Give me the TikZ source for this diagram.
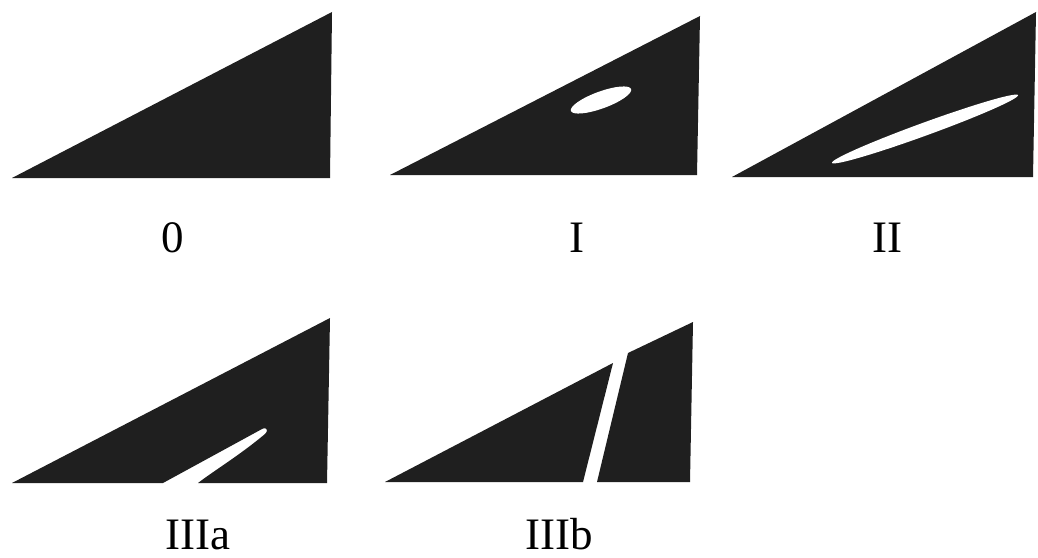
\documentclass[tikz,border=0pt]{standalone}
\usepackage{fontspec}
\setmainfont{Liberation Serif}

\begin{document}
\begin{tikzpicture}[x=0.025cm, y=-0.025cm,
  wedge/.style={fill=black!88, draw=none},
  gap/.style={fill=white, draw=none},
  stage/.style={anchor=base, inner sep=0pt, font=\fontsize{32}{38}\selectfont}]
  \useasboundingbox (0,0) rectangle (1038,558);
  % 0: intact wedge
  \fill[wedge] (12,178) -- (332,12) -- (330,178) -- cycle;
  % I: small inner void
  \fill[wedge] (390,175) -- (700,16) -- (697,175) -- cycle;
  \fill[gap, rotate around={20:(601,100)}] (601,100) ellipse [x radius=32, y radius=8.5];
  % II: long inner crack
  \fill[wedge] (732,177) -- (1036,12) -- (1033,177) -- cycle;
  \fill[gap, rotate around={20:(925,129)}] (925,129) ellipse [x radius=99, y radius=6.5];
  % IIIa: crack open at the base
  \fill[wedge] (12,483) -- (163,483) -- (262,429) .. controls (268,426) and (268,432) .. (265,434)
    .. controls (240,455) and (215,470) .. (198,483) -- (327,483) -- (330,318) -- cycle;
  % IIIb: split through
  \fill[wedge] (385,482) -- (613,363) -- (583,482) -- cycle;
  \fill[wedge] (597,482) -- (628,353) -- (693,322) -- (690,482) -- cycle;
  % stage labels
  \node[stage] (lab0) at (173,252) {0};
  \node[stage] (labI) at (577,252) {I};
  \node[stage] (labII) at (887,252) {II};
  \node[stage] (labIIIa) at (198,549) {IIIa};
  \node[stage] (labIIIb) at (559,549) {IIIb};
\end{tikzpicture}
\end{document}
